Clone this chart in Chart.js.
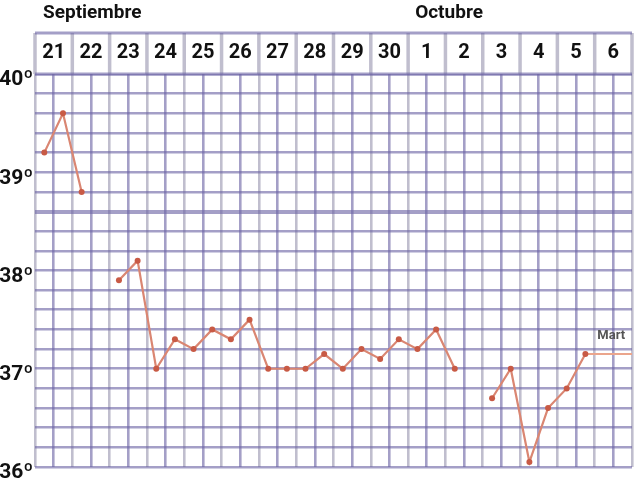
<!DOCTYPE html>
<html>
<head>
<meta charset="utf-8">
<script src="https://cdn.jsdelivr.net/npm/chart.js@4/dist/chart.umd.min.js"></script>
<style>
  html, body { margin: 0; padding: 0; background: #fff; }
  #wrap { width: 644px; height: 494px; position: relative; }
</style>
</head>
<body>
<div id="wrap"><canvas id="chartTemp"></canvas></div>
<script>
// days shown in the header (two readings per day: morning / evening)
const days = ["21", "22", "23", "24", "25", "26", "27", "28", "29", "30", "1", "2", "3", "4", "5", "6"];
const months = ["Septiembre", "Octubre"];
const monthStartDay = [0, 10];
// temperature readings, two per day, null = no reading
const temps = [
    39.2, 39.6,  38.8, null,  37.9, 38.1,  37.0, 37.3,  37.2, 37.4,  37.3, 37.5,
    37.0, 37.0,  37.0, 37.15, 37.0, 37.2,  37.1, 37.3,  37.2, 37.4,  37.0, null,
    36.7, 37.0,  36.05, 36.6, 36.8, 37.15, null, null,
];
const martLevel = 37.15;
const martFrom = 29.5;
const yTicks = [36, 37, 38, 39, 40];

const FONT = "'Liberation Sans Narrow', 'Roboto', sans-serif";
const GRID_PURPLE = "rgba(108,100,165,0.62)";
const GRID_GREY = "rgba(165,162,185,0.7)";
const LINE_RED = "#da8672";
const POINT_RED = "#c85a45";

const headerPlugin = {
    id: "header",
    afterDraw(chart) {
        const { ctx, chartArea } = chart;
        const x = chart.scales.x;
        const top = 33, bottom = chartArea.top;
        ctx.save();
        ctx.fillStyle = "#fff";
        ctx.fillRect(chartArea.left, top, chartArea.right - chartArea.left, bottom - top);
        // day separators
        ctx.strokeStyle = GRID_GREY;
        ctx.lineWidth = 3.5;
        for (let i = 0; i <= days.length; i++) {
            const px = x.getPixelForValue(i * 2);
            ctx.beginPath(); ctx.moveTo(px, top); ctx.lineTo(px, bottom); ctx.stroke();
        }
        ctx.strokeStyle = GRID_PURPLE;
        ctx.lineWidth = 3;
        ctx.beginPath(); ctx.moveTo(chartArea.left, top); ctx.lineTo(chartArea.right, top); ctx.stroke();
        ctx.beginPath(); ctx.moveTo(chartArea.left, bottom); ctx.lineTo(chartArea.right, bottom); ctx.stroke();
        // day numbers
        ctx.fillStyle = "#111";
        ctx.font = "bold 20px " + FONT;
        ctx.textAlign = "center";
        ctx.textBaseline = "middle";
        days.forEach((d, i) => ctx.fillText(d, x.getPixelForValue(i * 2 + 1), 53));
        // month names
        ctx.font = "bold 19px " + FONT;
        ctx.textAlign = "left";
        ctx.fillText(months[0], chartArea.left + 8, 13);
        ctx.fillText(months[1], x.getPixelForValue(monthStartDay[1] * 2) + 7, 13);
        // "Mart" tag
        ctx.font = "bold 13px " + FONT;
        ctx.fillStyle = "#555";
        ctx.fillText("Mart", x.getPixelForValue(31) - 16, chart.scales.y.getPixelForValue(martLevel + 0.19));
        ctx.restore();
    },
};

const c = document.getElementById("chartTemp");
new Chart(c, {
    type: "line",
    data: {
        datasets: [
            {
                data: temps.map((t, i) => ({ x: i + 0.5, y: t })),
                borderColor: LINE_RED,
                borderWidth: 2.2,
                pointRadius: 3,
                pointBackgroundColor: POINT_RED,
                pointBorderWidth: 0,
                spanGaps: false,
                tension: 0,
                clip: false,
            },
            {
                data: [{ x: martFrom, y: martLevel }, { x: days.length * 2, y: martLevel }],
                borderColor: "#eba58c",
                borderWidth: 2.2,
                pointRadius: 0,
            },
        ],
    },
    plugins: [headerPlugin],
    options: {
        responsive: true,
        maintainAspectRatio: false,
        animation: false,
        layout: { padding: { top: 74, right: 12, bottom: 27, left: 0 } },
        scales: {
            x: {
                type: "linear", min: 0, max: days.length * 2,
                ticks: { stepSize: 1, display: false },
                grid: {
                    drawTicks: false,
                    lineWidth: 2.6,
                    color: ctx => (ctx.tick && ctx.tick.value % 2 === 0 ? GRID_GREY : GRID_PURPLE),
                },
                border: { display: false },
                afterFit: s => { s.height = 0; },
            },
            y: {
                min: 36, max: 40,
                ticks: {
                    stepSize: 0.2,
                    autoSkip: false,
                    padding: 2,
                    labelOffset: 6,
                    color: "#111",
                    font: { family: FONT, size: 21, weight: "bold" },
                    callback: v => (yTicks.includes(Math.round(v * 10) / 10) && Math.abs(v - Math.round(v)) < 1e-6 ? Math.round(v) + "º" : ""),
                },
                grid: {
                    drawTicks: false,
                    color: GRID_PURPLE,
                    lineWidth: ctx => (ctx.tick && Math.abs(ctx.tick.value - 38.6) < 1e-6 ? 4 : 2.6),
                },
                border: { display: false },
                afterFit: s => { s.width = 35; },
            },
        },
        plugins: { legend: { display: false }, tooltip: { enabled: false } },
    },
});
</script>
</body>
</html>
